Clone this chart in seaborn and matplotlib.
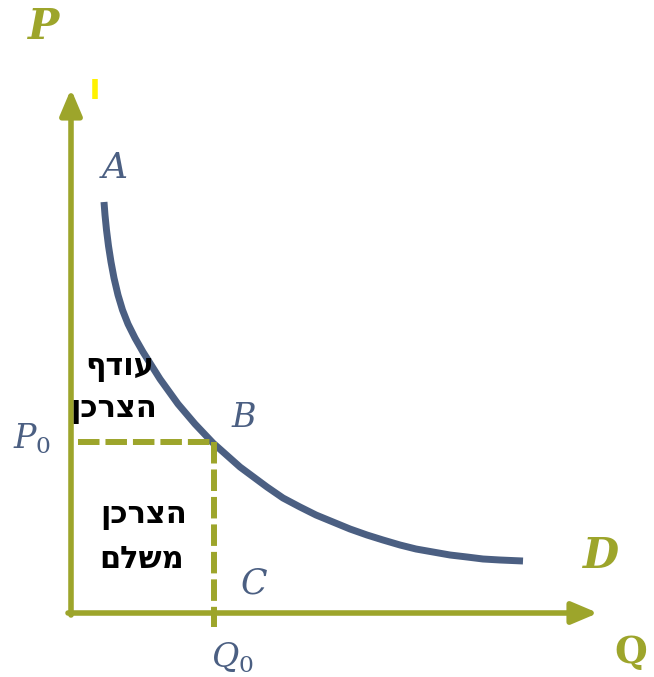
import matplotlib
matplotlib.use('Agg')
import matplotlib.pyplot as plt
import seaborn as sns

# נתוני עקומת הביקוש (כמות, מחיר) כפי שנקראו מהתמונה
q_curve = [33, 34, 35.5, 37.5, 40, 43, 47, 51.5, 57, 64, 72, 89, 107, 124, 142, 169,
           196, 212, 229, 245, 262, 279, 296, 312, 329, 345, 362, 379, 396, 412, 429, 452]
p_curve = [411, 398, 383, 367, 351, 335, 318, 303, 289, 275, 261, 234, 209, 189, 170, 146,
           126, 115, 106, 98, 91, 84, 78, 73, 68, 64, 61, 58, 56, 54, 53, 52]

# נקודת שיווי המשקל B
q0 = 143
p0 = 171

# טקסטים
surplus_lines = ['עודף', 'הצרכן']
paid_lines = ['הצרכן', 'משלם']

olive = '#9da52b'
navy = '#4b5f82'

sns.set_theme(style='white')
plt.rcParams['mathtext.fontset'] = 'dejavuserif'

fig = plt.figure(figsize=(6.54, 6.77), dpi=100)
ax = fig.add_axes([0, 0, 1, 1])
ax.set_xlim(-71, 583)
ax.set_ylim(-64, 613)
ax.axis('off')

# צירים עם חיצים
arrow = dict(arrowstyle='-|>,head_length=1.3,head_width=0.55', lw=4, color=olive,
             shrinkA=0, shrinkB=0)
ax.annotate('', xy=(0, 524), xytext=(0, -2), arrowprops=arrow)
ax.annotate('', xy=(527, 0), xytext=(-3, 0), arrowprops=arrow)

# עקומת הביקוש
sns.lineplot(x=q_curve, y=p_curve, sort=False, estimator=None, color=navy,
             linewidth=5, ax=ax, solid_capstyle='butt', solid_joinstyle='round')

# קווים מקווקווים
ax.plot([7, q0], [p0, p0], color=olive, lw=4.3, dashes=(3.6, 1.0))
ax.plot([q0, q0], [p0, -14], color=olive, lw=4.3, dashes=(3.6, 1.0))

# סימן צהוב קטן
ax.plot([24, 24], [514, 534], color='#fff200', lw=4, solid_capstyle='butt')

# תוויות
ax.text(-27, 586, 'P', fontsize=30, family='DejaVu Serif', style='italic',
        weight='bold', color=olive, ha='center', va='center')
ax.text(560, -40, 'Q', fontsize=27, family='DejaVu Serif', weight='bold',
        color=olive, ha='center', va='center')
ax.text(530, 57, 'D', fontsize=30, family='DejaVu Serif', style='italic',
        weight='bold', color=olive, ha='center', va='center')
ax.text(44, 445, 'A', fontsize=26, family='DejaVu Serif', style='italic',
        color=navy, ha='center', va='center')
ax.text(173, 195, 'B', fontsize=24, family='DejaVu Serif', style='italic',
        color=navy, ha='center', va='center')
ax.text(183, 30, 'C', fontsize=25, family='DejaVu Serif', style='italic',
        color=navy, ha='center', va='center')
ax.text(-39, 174, r'$P_0$', fontsize=24, color=navy, ha='center', va='center')
ax.text(161, -45, r'$Q_0$', fontsize=24, color=navy, ha='center', va='center')

# טקסט בעברית (matplotlib מצייר משמאל לימין, לכן הופכים את הסדר)
for (x, y), s in zip([(49, 246), (43, 203)], surplus_lines):
    ax.text(x, y, s[::-1], fontsize=22, family='DejaVu Sans', weight='bold',
            color='black', ha='center', va='center')
for (x, y), s in zip([(73, 98), (71, 53)], paid_lines):
    ax.text(x, y, s[::-1], fontsize=22, family='DejaVu Sans', weight='bold',
            color='black', ha='center', va='center')

fig.savefig('out.png', dpi=100)
